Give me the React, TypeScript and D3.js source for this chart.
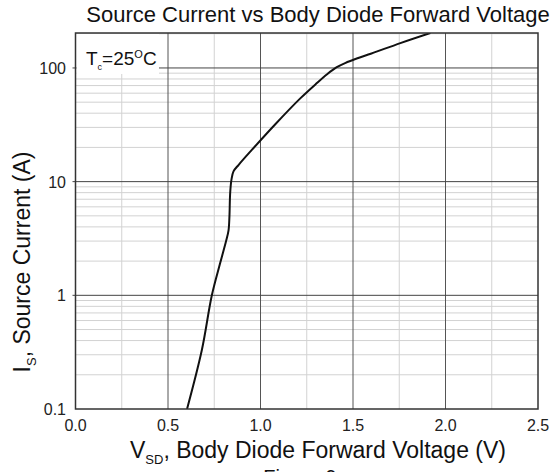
import React from "react";
import * as d3 from "d3";

const voltage = [0.603, 0.683, 0.737, 0.782, 0.814, 0.827, 0.832, 0.836, 0.843, 0.854, 0.881, 0.953, 1.08, 1.215, 1.305, 1.36, 1.41, 1.46, 1.52, 1.6, 1.756, 1.918];
const current = [0.1, 0.33, 1.0, 1.92, 3.0, 3.7, 4.9, 7.9, 10.4, 12.3, 14, 19, 32, 54, 73.6, 88, 101, 111, 121, 134, 165.5, 203];
const xTicks = [0, 0.5, 1.0, 1.5, 2.0, 2.5];
const xMinor = [0.25, 0.75, 1.25, 1.75, 2.25];
const yTicks = [0.1, 1, 10, 100];
const yTickLabels = ["0.1", "1", "10", "100"];
const minorMult = [2, 3, 4, 5, 6, 7, 8, 9];

const W = 558, H = 472;
const L = 75.5, R = 538, T = 33, B = 409;
const FONT = "'Liberation Sans', Arial, sans-serif";

export default function App() {
  const x = d3.scaleLinear().domain([0, 2.5]).range([L, R]);
  const y = d3.scaleLog().domain([0.1, 203]).range([B, T]);
  const minorY: number[] = [];
  [0.1, 1, 10, 100].forEach((d) => minorMult.forEach((m) => { const v = d * m; if (v < 203) minorY.push(v); }));
  const line = d3.line<number>()
    .x((_, i) => x(voltage[i]))
    .y((_, i) => y(current[i]))
    .curve(d3.curveCatmullRom.alpha(0.5));
  const fmt = d3.format(".1f");
  return (
    <svg width={W} height={H} style={{ position: "absolute", left: 0, top: 0, background: "#fff" }} fontFamily={FONT}>
      <rect x={0} y={0} width={W} height={H} fill="#fff" />
      <defs>
        <clipPath id="plot"><rect x={L} y={T} width={R - L} height={B - T} /></clipPath>
      </defs>
      {minorY.map((v, i) => (
        <line key={"my" + i} x1={L} x2={R} y1={y(v)} y2={y(v)} stroke="#d2d2d2" strokeWidth={1} />
      ))}
      {xMinor.map((v, i) => (
        <line key={"mx" + i} x1={x(v)} x2={x(v)} y1={T} y2={B} stroke="#d2d2d2" strokeWidth={1} />
      ))}
      {xTicks.slice(1, -1).map((v, i) => (
        <line key={"gx" + i} x1={x(v)} x2={x(v)} y1={T} y2={B} stroke="#555" strokeWidth={1} />
      ))}
      {yTicks.slice(1).map((v, i) => (
        <line key={"gy" + i} x1={L - 3} x2={R} y1={y(v)} y2={y(v)} stroke="#444" strokeWidth={1} />
      ))}
      <rect x={L + 1} y={T + 1} width={158 - L} height={73 - T} fill="#fff" />
      <path d={line(voltage) || ""} fill="none" stroke="#111" strokeWidth={2} clipPath="url(#plot)" />
      <rect x={L} y={T} width={R - L} height={B - T} fill="none" stroke="#333" strokeWidth={1.5} />
      <text x={86} y={65} fontSize={19} fill="#111">T<tspan fontSize={9} dy={5}>c</tspan><tspan dy={-5}>=25</tspan><tspan fontSize={11} dy={-7}>O</tspan><tspan dy={7}>C</tspan></text>
      {xTicks.map((v, i) => (
        <text key={"xt" + i} x={x(v)} y={431} fontSize={16} textAnchor="middle" fill="#222">{fmt(v)}</text>
      ))}
      {yTicks.map((v, i) => (
        <text key={"yt" + i} x={66} y={y(v) + 6} fontSize={16} textAnchor="end" fill="#222">{yTickLabels[i]}</text>
      ))}
      <text x={318} y={22} fontSize={22} textAnchor="middle" fill="#111">Source Current vs Body Diode Forward Voltage</text>
      <text x={318} y={458} fontSize={23} textAnchor="middle" fill="#111">V<tspan fontSize={13} dy={6}>SD</tspan><tspan dy={-6}>, Body Diode Forward Voltage (V)</tspan></text>
      <text transform={`translate(30, ${262}) rotate(-90)`} fontSize={23} textAnchor="middle" fill="#111">I<tspan fontSize={13} dy={6}>S</tspan><tspan dy={-6}>, Source Current (A)</tspan></text>
      <text x={300} y={484} fontSize={20} textAnchor="middle" fill="#111">Figure 9</text>
    </svg>
  );
}
